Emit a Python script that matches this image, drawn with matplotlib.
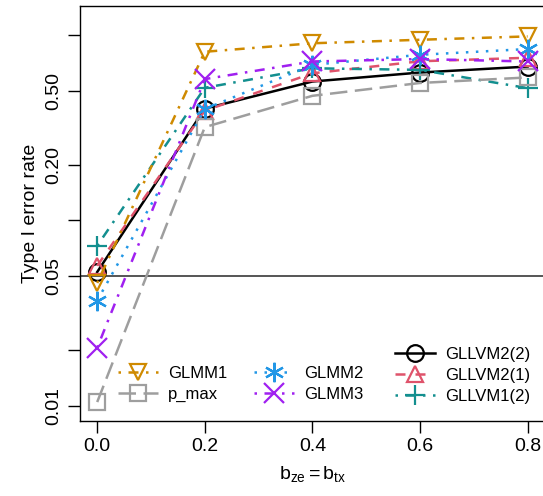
import numpy as np
import matplotlib.pyplot as plt
from matplotlib.lines import Line2D

plt.rcParams['font.family'] = ['Liberation Sans', 'DejaVu Sans']
plt.rcParams['mathtext.fontset'] = 'custom'
plt.rcParams['mathtext.rm'] = 'Liberation Sans'
plt.rcParams['mathtext.it'] = 'Liberation Sans'

# effect sizes on the x axis
b = [0.0, 0.2, 0.4, 0.6, 0.8]

# type I error rate per method
glmm1 = [0.046, 0.81, 0.90, 0.94, 0.98]
p_max = [0.0105, 0.318, 0.469, 0.55, 0.589]
glmm2 = [0.037, 0.398, 0.689, 0.78, 0.838]
glmm3 = [0.0206, 0.577, 0.718, 0.74, 0.718]
gllvm2_2 = [0.0527, 0.40, 0.56, 0.626, 0.674]
gllvm2_1 = [0.0569, 0.39, 0.62, 0.72, 0.752]
gllvm1_2 = [0.073, 0.518, 0.66, 0.647, 0.516]

yticks = [0.01, 0.02, 0.05, 0.1, 0.2, 0.5, 1.0]
ytick_labels = ['0.01', '', '0.05', '', '0.20', '0.50', '']

# name, values, colour, marker, linestyle  (drawing order)
series = [
    ('GLLVM2(2)', gllvm2_2, 'black', 'o', '-'),
    ('GLLVM2(1)', gllvm2_1, '#DF536B', '^', (0, (4, 4))),
    ('GLLVM1(2)', gllvm1_2, '#138F8F', '+', (0, (1, 3, 4, 3))),
    ('p_max', p_max, '#9E9E9E', 's', (0, (7, 3))),
    ('GLMM1', glmm1, '#CF8A00', 'v', (0, (1, 3, 4, 3))),
    ('GLMM2', glmm2, '#2297E6', (6, 2, 0), (0, (1, 3))),
    ('GLMM3', glmm3, '#A020F0', 'x', (0, (1, 3, 4, 3))),
]

fig = plt.figure(figsize=(5.43, 4.96), dpi=100)
ax = fig.add_axes([0.1473, 0.1512, 0.856, 0.8368])

ax.axhline(0.05, color='#555555', lw=1.4, zorder=1)

handles = {}
for name, vals, col, mk, ls in series:
    ms = 14 if mk in ('+', 'x', (6, 2, 0)) else 12
    h, = ax.plot(b, vals, color=col, ls=ls, lw=1.8, marker=mk, ms=ms,
                 mfc='none', mec=col, mew=1.6, label=name, zorder=3)
    handles[name] = h

ax.set_yscale('log')
ax.set_xlim(-0.032, 0.832)
ax.set_ylim(0.0083, 1.43)
ax.set_yticks(yticks)
ax.set_yticklabels(ytick_labels, rotation=90, va='center')
ax.minorticks_off()
ax.set_xticks(b)
ax.set_xticklabels(['0.0', '0.2', '0.4', '0.6', '0.8'])
ax.tick_params(direction='out', length=8.5, width=1, labelsize=14, pad=4)

ax.set_ylabel('Type I error rate', fontsize=14, labelpad=5)
ax.set_xlabel(r'$\mathrm{b_{ze} = b_{tx}}$', fontsize=14, labelpad=6)

for sp in ax.spines.values():
    sp.set_linewidth(1)

leg1 = ax.legend([handles[n] for n in ['GLMM1', 'p_max', 'GLMM2', 'GLMM3']],
                 ['GLMM1', 'p_max', 'GLMM2', 'GLMM3'], ncol=2, frameon=False,
                 fontsize=12, loc='lower left', bbox_to_anchor=(0.05, 0.01),
                 handlelength=2.4, columnspacing=1.6, labelspacing=0.35,
                 handletextpad=0.6)
ax.add_artist(leg1)
ax.legend([handles[n] for n in ['GLLVM2(2)', 'GLLVM2(1)', 'GLLVM1(2)']],
          ['GLLVM2(2)', 'GLLVM2(1)', 'GLLVM1(2)'], frameon=False,
          fontsize=12, loc='lower left', bbox_to_anchor=(0.645, 0.005),
          handlelength=2.4, labelspacing=0.35, handletextpad=0.6)

fig.savefig('out.png', dpi=100)
